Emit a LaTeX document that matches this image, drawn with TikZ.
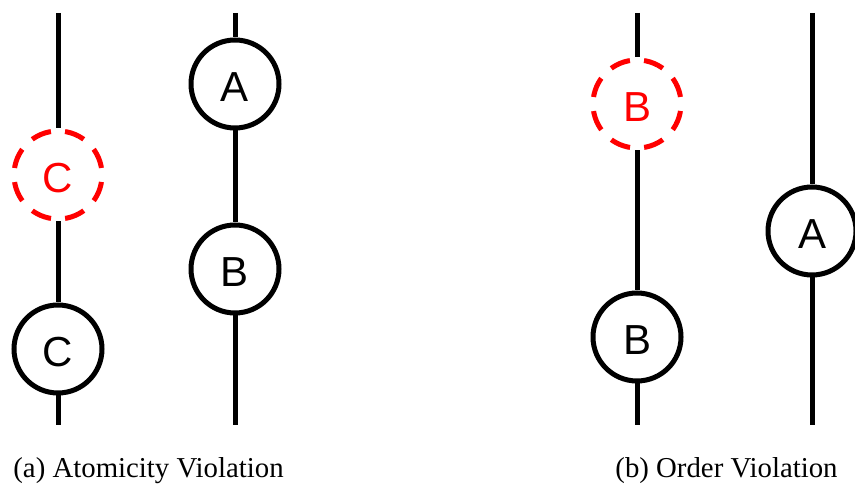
\documentclass[tikz,border=0pt]{standalone}
\usepackage{fontspec}
\setmainfont{Liberation Serif}
\newfontfamily\opfont{Liberation Sans}

\begin{document}
\begin{tikzpicture}[x=0.5pt, y=-0.5pt,
    thread/.style={line width=2.5pt},
    op/.style={circle, draw, line width=2.5pt, minimum size=44pt, inner sep=0pt,
      font=\opfont\fontsize{21}{21}\selectfont, text height=18pt, text depth=0pt},
    ghost/.style={op, red, dash pattern=on 10.2pt off 7.08pt, dash phase=13.74pt},
    caption/.style={anchor=base west, inner sep=0pt, font=\fontsize{14.4}{17}\selectfont}]
  \useasboundingbox (0,0) rectangle (855,485);

  % (a) atomicity violation
  \node[ghost] (cga) at (58,175) {C};
  \node[op] (ca) at (58,349) {C};
  \node[op] (aa) at (235,84) {A};
  \node[op] (ba) at (235,269) {B};
  \foreach \n/\xc in {t1/58, t2/235} {
    \coordinate (\n top) at (\xc,13);
    \coordinate (\n bot) at (\xc,425);
  }
  \draw[thread] (t1top) -- (cga.north);
  \draw[thread] (cga.south) -- (ca.north);
  \draw[thread] (ca.south) -- (t1bot);
  \draw[thread] (t2top) -- (aa.north);
  \draw[thread] (aa.south) -- (ba.north);
  \draw[thread] (ba.south) -- (t2bot);
  \node[caption] (capa) at (13,477) {(a) Atomicity Violation};

  % (b) order violation
  \node[ghost] (bgb) at (637,104) {B};
  \node[op] (bb) at (637,337) {B};
  \node[op] (ab) at (812,231) {A};
  \foreach \n/\xc in {t3/637, t4/812} {
    \coordinate (\n top) at (\xc,13);
    \coordinate (\n bot) at (\xc,425);
  }
  \draw[thread] (t3top) -- (bgb.north);
  \draw[thread] (bgb.south) -- (bb.north);
  \draw[thread] (bb.south) -- (t3bot);
  \draw[thread] (t4top) -- (ab.north);
  \draw[thread] (ab.south) -- (t4bot);
  \node[caption] (capb) at (615,477) {(b) Order Violation};
\end{tikzpicture}
\end{document}
